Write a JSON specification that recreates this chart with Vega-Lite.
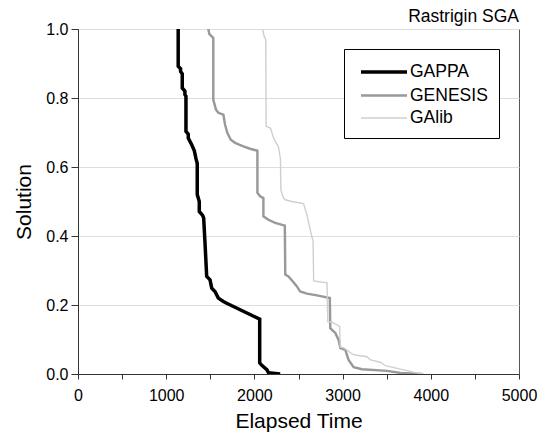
{
  "$schema": "https://vega.github.io/schema/vega-lite/v6.json",
  "width": 441,
  "height": 345,
  "autosize": {"type": "none"},
  "padding": {"left": 78, "top": 29, "right": 24, "bottom": 58},
  "background": "white",
  "title": {
    "text": "Rastrigin SGA",
    "anchor": "end",
    "frame": "group",
    "fontSize": 17.5,
    "fontWeight": "normal",
    "font": "Liberation Sans",
    "color": "black",
    "baseline": "alphabetic",
    "offset": -18
  },
  "config": {
    "font": "Liberation Sans",
    "view": {"stroke": "#555555", "strokeWidth": 1},
    "axis": {
      "labelFont": "Liberation Sans",
      "titleFont": "Liberation Sans",
      "labelColor": "black",
      "titleColor": "black",
      "titleFontWeight": "normal",
      "domainColor": "#333333",
      "tickColor": "#333333"
    },
    "legend": {
      "orient": "none",
      "legendX": 266,
      "legendY": 20,
      "title": null,
      "strokeColor": "black",
      "fillColor": "white",
      "padding": 11,
      "symbolType": "M-2.3,0H2.3",
      "symbolSize": 400,
      "symbolOffset": 17,
      "labelFontSize": 17.5,
      "labelFont": "Liberation Sans",
      "labelColor": "black",
      "labelOffset": 14,
      "rowPadding": 3
    }
  },
  "data": {
    "values": [
      {"series": "GAPPA", "i": 1, "time": 1136, "solution": 1.0},
      {"series": "GAPPA", "i": 2, "time": 1136, "solution": 0.892},
      {"series": "GAPPA", "i": 3, "time": 1163, "solution": 0.885},
      {"series": "GAPPA", "i": 4, "time": 1163, "solution": 0.877},
      {"series": "GAPPA", "i": 5, "time": 1182, "solution": 0.87},
      {"series": "GAPPA", "i": 6, "time": 1182, "solution": 0.829},
      {"series": "GAPPA", "i": 7, "time": 1212, "solution": 0.82},
      {"series": "GAPPA", "i": 8, "time": 1212, "solution": 0.81},
      {"series": "GAPPA", "i": 9, "time": 1224, "solution": 0.805},
      {"series": "GAPPA", "i": 10, "time": 1224, "solution": 0.703},
      {"series": "GAPPA", "i": 11, "time": 1250, "solution": 0.695},
      {"series": "GAPPA", "i": 12, "time": 1250, "solution": 0.684},
      {"series": "GAPPA", "i": 13, "time": 1288, "solution": 0.665},
      {"series": "GAPPA", "i": 14, "time": 1318, "solution": 0.648},
      {"series": "GAPPA", "i": 15, "time": 1337, "solution": 0.625},
      {"series": "GAPPA", "i": 16, "time": 1352, "solution": 0.61},
      {"series": "GAPPA", "i": 17, "time": 1352, "solution": 0.52},
      {"series": "GAPPA", "i": 18, "time": 1375, "solution": 0.5},
      {"series": "GAPPA", "i": 19, "time": 1375, "solution": 0.471},
      {"series": "GAPPA", "i": 20, "time": 1413, "solution": 0.46},
      {"series": "GAPPA", "i": 21, "time": 1425, "solution": 0.452},
      {"series": "GAPPA", "i": 22, "time": 1440, "solution": 0.38},
      {"series": "GAPPA", "i": 23, "time": 1459, "solution": 0.283},
      {"series": "GAPPA", "i": 24, "time": 1497, "solution": 0.273},
      {"series": "GAPPA", "i": 25, "time": 1516, "solution": 0.249},
      {"series": "GAPPA", "i": 26, "time": 1553, "solution": 0.239},
      {"series": "GAPPA", "i": 27, "time": 1591, "solution": 0.22},
      {"series": "GAPPA", "i": 28, "time": 1648, "solution": 0.21},
      {"series": "GAPPA", "i": 29, "time": 1686, "solution": 0.205},
      {"series": "GAPPA", "i": 30, "time": 2060, "solution": 0.159},
      {"series": "GAPPA", "i": 31, "time": 2060, "solution": 0.032},
      {"series": "GAPPA", "i": 32, "time": 2084, "solution": 0.025},
      {"series": "GAPPA", "i": 33, "time": 2141, "solution": 0.0125},
      {"series": "GAPPA", "i": 34, "time": 2159, "solution": 0.004},
      {"series": "GAPPA", "i": 35, "time": 2292, "solution": 0.0},

      {"series": "GENESIS", "i": 1, "time": 1477, "solution": 1.0},
      {"series": "GENESIS", "i": 2, "time": 1490, "solution": 0.985},
      {"series": "GENESIS", "i": 3, "time": 1534, "solution": 0.974},
      {"series": "GENESIS", "i": 4, "time": 1534, "solution": 0.795},
      {"series": "GENESIS", "i": 5, "time": 1555, "solution": 0.775},
      {"series": "GENESIS", "i": 6, "time": 1565, "solution": 0.766},
      {"series": "GENESIS", "i": 7, "time": 1591, "solution": 0.757},
      {"series": "GENESIS", "i": 8, "time": 1648, "solution": 0.752},
      {"series": "GENESIS", "i": 9, "time": 1667, "solution": 0.723},
      {"series": "GENESIS", "i": 10, "time": 1693, "solution": 0.699},
      {"series": "GENESIS", "i": 11, "time": 1732, "solution": 0.679},
      {"series": "GENESIS", "i": 12, "time": 1781, "solution": 0.67},
      {"series": "GENESIS", "i": 13, "time": 1875, "solution": 0.66},
      {"series": "GENESIS", "i": 14, "time": 1951, "solution": 0.653},
      {"series": "GENESIS", "i": 15, "time": 2034, "solution": 0.647},
      {"series": "GENESIS", "i": 16, "time": 2034, "solution": 0.525},
      {"series": "GENESIS", "i": 17, "time": 2065, "solution": 0.515},
      {"series": "GENESIS", "i": 18, "time": 2102, "solution": 0.51},
      {"series": "GENESIS", "i": 19, "time": 2102, "solution": 0.457},
      {"series": "GENESIS", "i": 20, "time": 2159, "solution": 0.447},
      {"series": "GENESIS", "i": 21, "time": 2235, "solution": 0.438},
      {"series": "GENESIS", "i": 22, "time": 2345, "solution": 0.43},
      {"series": "GENESIS", "i": 23, "time": 2350, "solution": 0.288},
      {"series": "GENESIS", "i": 24, "time": 2386, "solution": 0.283},
      {"series": "GENESIS", "i": 25, "time": 2436, "solution": 0.268},
      {"series": "GENESIS", "i": 26, "time": 2482, "solution": 0.254},
      {"series": "GENESIS", "i": 27, "time": 2519, "solution": 0.239},
      {"series": "GENESIS", "i": 28, "time": 2595, "solution": 0.233},
      {"series": "GENESIS", "i": 29, "time": 2709, "solution": 0.228},
      {"series": "GENESIS", "i": 30, "time": 2855, "solution": 0.22},
      {"series": "GENESIS", "i": 31, "time": 2860, "solution": 0.133},
      {"series": "GENESIS", "i": 32, "time": 2917, "solution": 0.119},
      {"series": "GENESIS", "i": 33, "time": 2955, "solution": 0.099},
      {"series": "GENESIS", "i": 34, "time": 2974, "solution": 0.075},
      {"series": "GENESIS", "i": 35, "time": 3031, "solution": 0.07},
      {"series": "GENESIS", "i": 36, "time": 3068, "solution": 0.041},
      {"series": "GENESIS", "i": 37, "time": 3125, "solution": 0.02},
      {"series": "GENESIS", "i": 38, "time": 3220, "solution": 0.014},
      {"series": "GENESIS", "i": 39, "time": 3504, "solution": 0.009},
      {"series": "GENESIS", "i": 40, "time": 3656, "solution": 0.003},
      {"series": "GENESIS", "i": 41, "time": 3900, "solution": 0.0},

      {"series": "GAlib", "i": 1, "time": 2091, "solution": 1.0},
      {"series": "GAlib", "i": 2, "time": 2110, "solution": 0.98},
      {"series": "GAlib", "i": 3, "time": 2129, "solution": 0.969},
      {"series": "GAlib", "i": 4, "time": 2133, "solution": 0.718},
      {"series": "GAlib", "i": 5, "time": 2182, "solution": 0.713},
      {"series": "GAlib", "i": 6, "time": 2220, "solution": 0.682},
      {"series": "GAlib", "i": 7, "time": 2273, "solution": 0.658},
      {"series": "GAlib", "i": 8, "time": 2295, "solution": 0.624},
      {"series": "GAlib", "i": 9, "time": 2300, "solution": 0.534},
      {"series": "GAlib", "i": 10, "time": 2330, "solution": 0.51},
      {"series": "GAlib", "i": 11, "time": 2349, "solution": 0.505},
      {"series": "GAlib", "i": 12, "time": 2425, "solution": 0.5},
      {"series": "GAlib", "i": 13, "time": 2557, "solution": 0.494},
      {"series": "GAlib", "i": 14, "time": 2595, "solution": 0.462},
      {"series": "GAlib", "i": 15, "time": 2640, "solution": 0.41},
      {"series": "GAlib", "i": 16, "time": 2665, "solution": 0.385},
      {"series": "GAlib", "i": 17, "time": 2672, "solution": 0.27},
      {"series": "GAlib", "i": 18, "time": 2823, "solution": 0.264},
      {"series": "GAlib", "i": 19, "time": 2832, "solution": 0.152},
      {"series": "GAlib", "i": 20, "time": 2880, "solution": 0.15},
      {"series": "GAlib", "i": 21, "time": 2966, "solution": 0.138},
      {"series": "GAlib", "i": 22, "time": 2974, "solution": 0.078},
      {"series": "GAlib", "i": 23, "time": 3011, "solution": 0.076},
      {"series": "GAlib", "i": 24, "time": 3068, "solution": 0.066},
      {"series": "GAlib", "i": 25, "time": 3106, "solution": 0.058},
      {"series": "GAlib", "i": 26, "time": 3144, "solution": 0.055},
      {"series": "GAlib", "i": 27, "time": 3277, "solution": 0.05},
      {"series": "GAlib", "i": 28, "time": 3315, "solution": 0.041},
      {"series": "GAlib", "i": 29, "time": 3428, "solution": 0.034},
      {"series": "GAlib", "i": 30, "time": 3485, "solution": 0.024},
      {"series": "GAlib", "i": 31, "time": 3656, "solution": 0.014},
      {"series": "GAlib", "i": 32, "time": 3826, "solution": 0.004},
      {"series": "GAlib", "i": 33, "time": 3920, "solution": 0.0}
    ]
  },
  "mark": {"type": "line", "strokeJoin": "miter", "clip": true},
  "encoding": {
    "x": {
      "field": "time",
      "type": "quantitative",
      "scale": {"domain": [0, 5000], "nice": false, "zero": true},
      "axis": {
        "title": "Elapsed Time",
        "values": [0, 500, 1000, 1500, 2000, 2500, 3000, 3500, 4000, 4500, 5000],
        "labelExpr": "datum.value % 1000 == 0 ? format(datum.value, 'd') : ''",
        "grid": false,
        "labelFontSize": 16,
        "titleFontSize": 21,
        "tickSize": 5,
        "labelPadding": 8,
        "titlePadding": 7,
        "labelFlush": false,
        "labelOverlap": false
      }
    },
    "y": {
      "field": "solution",
      "type": "quantitative",
      "scale": {"domain": [0, 1], "nice": false},
      "axis": {
        "title": "Solution",
        "values": [0, 0.2, 0.4, 0.6, 0.8, 1.0],
        "format": ".1f",
        "grid": true,
        "gridColor": "#dddddd",
        "labelFontSize": 16,
        "titleFontSize": 21,
        "tickSize": 7,
        "labelPadding": 3,
        "titlePadding": 11,
        "labelFlush": false,
        "labelOverlap": false
      }
    },
    "color": {
      "field": "series",
      "type": "nominal",
      "scale": {"domain": ["GAPPA", "GENESIS", "GAlib"], "range": ["#000000", "#999999", "#cfcfcf"]},
      "legend": {"title": null}
    },
    "strokeWidth": {
      "field": "series",
      "type": "nominal",
      "scale": {"domain": ["GAPPA", "GENESIS", "GAlib"], "range": [3.5, 1.4, 1.4]},
      "legend": {"title": null}
    },
    "order": {"field": "i", "type": "quantitative"}
  }
}
